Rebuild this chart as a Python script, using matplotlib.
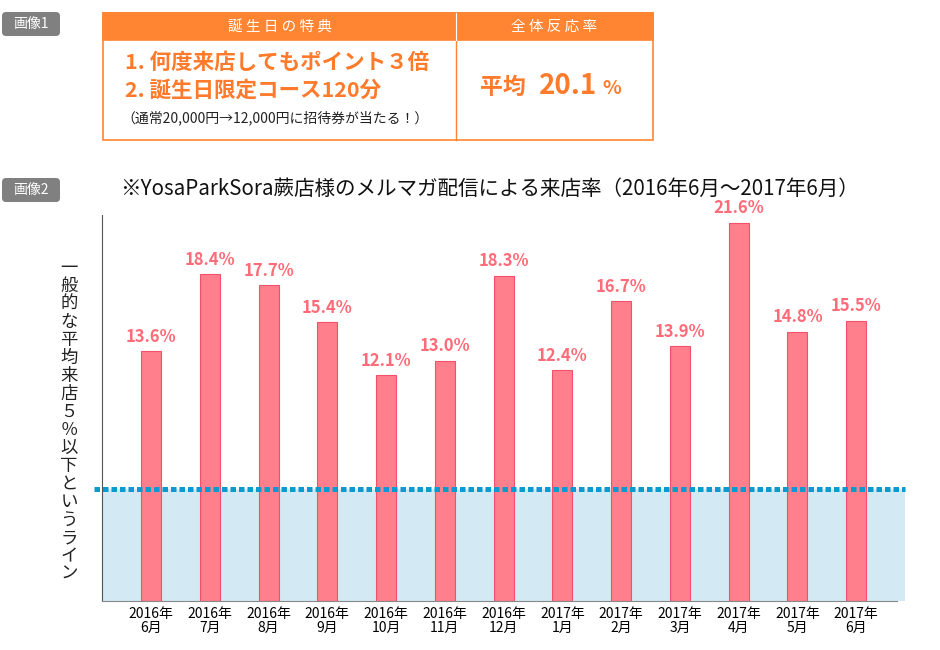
import matplotlib.pyplot as plt
from matplotlib.patches import FancyBboxPatch, Rectangle

plt.rcParams['font.family'] = ['Noto Sans CJK JP', 'DejaVu Sans']

# データ
months = ["2016年\n6月", "2016年\n7月", "2016年\n8月", "2016年\n9月", "2016年\n10月",
          "2016年\n11月", "2016年\n12月", "2017年\n1月", "2017年\n2月", "2017年\n3月",
          "2017年\n4月", "2017年\n5月", "2017年\n6月"]
visit_rate = [13.6, 18.4, 17.7, 15.4, 12.1, 13.0, 18.3, 12.4, 16.7, 13.9, 21.6, 14.8, 15.5]
baseline = 5.0
title = "※YosaParkSora蕨店様のメルマガ配信による来店率（2016年6月～2017年6月）"
ylabel = "一般的な平均来店５％以下というライン"

ORANGE = "#FF8533"
TXT_OR = "#FF7A2A"
BAR = "#FF7F8C"
BAR_EDGE = "#F5506A"
LABEL = "#FF6B78"

fig = plt.figure(figsize=(9.4, 6.5), dpi=100)

# 背景用（ピクセル座標）
bg = fig.add_axes([0, 0, 1, 1], zorder=0)
bg.set_xlim(0, 940)
bg.set_ylim(650, 0)
bg.axis("off")

def badge(y, txt):
    bg.add_patch(FancyBboxPatch((2, y), 58, 24, boxstyle="round,pad=0,rounding_size=4",
                                fc="#808080", ec="none"))
    bg.text(31, y + 12, txt, color="white", fontsize=10, ha="center", va="center")

badge(12, "画像1")
badge(178, "画像2")

# 表
bg.add_patch(Rectangle((103, 13), 550, 127, fc="white", ec=ORANGE, lw=1.2))
bg.add_patch(Rectangle((103, 13), 550, 27, fc=ORANGE, ec=ORANGE, lw=1.2))
bg.plot([456, 456], [13, 140], color=ORANGE, lw=1)
bg.plot([456, 456], [13, 40], color="white", lw=0.8)
bg.text(280, 27, "誕 生 日 の 特 典", color="white", fontsize=10.5, ha="center", va="center")
bg.text(554, 27, "全 体 反 応 率", color="white", fontsize=10.5, ha="center", va="center")
bg.text(125, 62, "1. 何度来店してもポイント３倍", color=TXT_OR, fontsize=15.5,
        fontweight="bold", ha="left", va="center")
bg.text(125, 90, "2. 誕生日限定コース120分", color=TXT_OR, fontsize=15.5,
        fontweight="bold", ha="left", va="center")
bg.text(121, 118, "（通常20,000円→12,000円に招待券が当たる！）", color="#222222",
        fontsize=10, ha="left", va="center")
bg.text(480, 87, "平均", color=TXT_OR, fontsize=16.5, fontweight="bold",
        ha="left", va="center")
bg.text(539, 86, "20.1", color=TXT_OR, fontsize=20, fontweight="bold",
        ha="left", va="center")
bg.text(602, 89, "%", color=TXT_OR, fontsize=14, fontweight="bold",
        ha="left", va="center")

# タイトル
bg.text(120, 189, title, fontsize=14.8, color="#111111", ha="left", va="center")

# 縦書きラベル
bg.text(69, 421, "\n".join(ylabel), fontsize=12.5, color="#222222", ha="center",
        va="center", linespacing=1.0)

# グラフ
y_floor, y_top = -2.0, 22.1
ax = fig.add_axes([102 / 940, 49 / 650, 803 / 940, 386 / 650], zorder=1)
ax.patch.set_alpha(0)
x = range(len(months))
ax.axhspan(y_floor, baseline, color="#D3E9F3", zorder=0)
ax.bar(x, [v - y_floor for v in visit_rate], bottom=y_floor, width=0.34,
       color=BAR, edgecolor=BAR_EDGE, linewidth=0.8, zorder=2)
ax.axhline(baseline, xmin=-0.01, xmax=1.0, color="#0A9AD0", lw=3.6,
           linestyle=(0, (1.1, 0.6)), clip_on=False, zorder=3)
for i, v in zip(x, visit_rate):
    ax.annotate(f"{v:.1f}%", (i, v), xytext=(0, 4), textcoords="offset points",
                ha="center", va="bottom", color=LABEL, fontsize=12, fontweight="bold")

ax.set_xlim(-0.834, 12.83)
ax.set_ylim(y_floor, y_top)
ax.set_xticks(list(x))
ax.set_xticklabels(months, fontsize=10, linespacing=1.05)
ax.tick_params(axis="x", length=0, pad=4)
ax.set_yticks([])
for s in ["top", "right"]:
    ax.spines[s].set_visible(False)
ax.spines["left"].set_color("#555555")
ax.spines["bottom"].set_color("#888888")
ax.spines["bottom"].set_bounds(-0.834, 12.7)

fig.savefig("out.png", dpi=100)
